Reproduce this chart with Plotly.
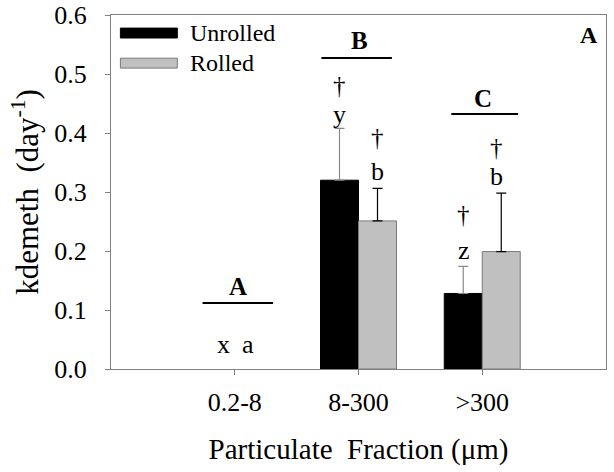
import plotly.graph_objects as go

categories = ["0.2-8", "8-300", ">300"]
unrolled = [None, 0.320, 0.128]
unrolled_err = [None, 0.088, 0.046]
rolled = [None, 0.251, 0.199]
rolled_err = [None, 0.055, 0.099]
y_ticks = [0.0, 0.1, 0.2, 0.3, 0.4, 0.5, 0.6]

FONT = "Liberation Serif"

fig = go.Figure()
fig.add_trace(go.Bar(
    x=categories, y=unrolled, name="Unrolled",
    marker=dict(color="black", line=dict(color="black", width=1)),
    error_y=dict(type="data", array=unrolled_err, arrayminus=[0, 0, 0], symmetric=False,
                 color="#8a8a8a", thickness=1.2, width=5),
))
fig.add_trace(go.Bar(
    x=categories, y=rolled, name="Rolled",
    marker=dict(color="#c0c0c0", line=dict(color="#7a7a7a", width=1)),
    error_y=dict(type="data", array=rolled_err, arrayminus=[0, 0, 0], symmetric=False,
                 color="black", thickness=1.2, width=5),
))

ann = []
def txt(x, y, s, bold=False, size=26, xanchor="center"):
    ann.append(dict(x=x, y=y, xref="x", yref="y", text=f"<b>{s}</b>" if bold else s,
                    showarrow=False, xanchor=xanchor, yanchor="middle",
                    font=dict(family=FONT, size=size, color="black")))

# group letters and lines
txt(0.03, 0.139, "A", bold=True, size=25)
txt(1.01, 0.557, "B", bold=True, size=25)
txt(2.01, 0.459, "C", bold=True, size=25)
shapes = [
    dict(type="line", xref="x", yref="y", x0=-0.26, x1=0.31, y0=0.112, y1=0.112, line=dict(color="black", width=2)),
    dict(type="line", xref="x", yref="y", x0=0.70, x1=1.27, y0=0.527, y1=0.527, line=dict(color="black", width=2)),
    dict(type="line", xref="x", yref="y", x0=1.75, x1=2.29, y0=0.432, y1=0.432, line=dict(color="black", width=2)),
]
# small letters
txt(-0.09, 0.042, "x")
txt(0.105, 0.042, "a")
txt(0.85, 0.431, "y")
txt(1.155, 0.334, "b")
txt(1.85, 0.2015, "z")
txt(2.115, 0.327, "b")
# daggers
txt(0.85, 0.480, "†", size=25)
txt(1.155, 0.393, "†", size=25)
txt(1.85, 0.262, "†", size=25)
txt(2.115, 0.376, "†", size=25)

# panel label
ann.append(dict(x=0.988, y=0.943, xref="paper", yref="paper", text="<b>A</b>", showarrow=False,
                xanchor="right", yanchor="middle", font=dict(family=FONT, size=24, color="black")))

# legend (custom)
shapes.append(dict(type="rect", xref="paper", yref="paper", x0=0.019, x1=0.134, y0=0.935, y1=0.963,
                   fillcolor="black", line=dict(color="black", width=1)))
shapes.append(dict(type="rect", xref="paper", yref="paper", x0=0.019, x1=0.134, y0=0.850, y1=0.878,
                   fillcolor="#c0c0c0", line=dict(color="#7a7a7a", width=1)))
ann.append(dict(x=0.156, y=0.949, xref="paper", yref="paper", text="Unrolled", showarrow=False,
                xanchor="left", yanchor="middle", font=dict(family=FONT, size=24, color="black")))
ann.append(dict(x=0.156, y=0.864, xref="paper", yref="paper", text="Rolled", showarrow=False,
                xanchor="left", yanchor="middle", font=dict(family=FONT, size=24, color="black")))

fig.update_layout(
    width=614, height=472,
    margin=dict(l=111, r=8, t=15, b=103),
    paper_bgcolor="white", plot_bgcolor="white",
    barmode="group", bargap=0.386, bargroupgap=0,
    showlegend=False,
    font=dict(family=FONT, color="black"),
    annotations=ann, shapes=shapes,
)
fig.update_xaxes(
    type="category", categoryorder="array", categoryarray=categories,
    range=[-1, 3], showline=True, linecolor="#808080", linewidth=1, mirror=True,
    ticks="outside", ticklen=5, tickcolor="#808080", showgrid=False, automargin=False,
    ticklabelstandoff=5,
    tickfont=dict(family=FONT, size=26, color="black"),
    title=dict(text="Particulate  Fraction (μm)", font=dict(family=FONT, size=29, color="black"), standoff=22),
)
fig.update_yaxes(
    range=[0, 0.6], tickvals=y_ticks, tickformat=".1f",
    showline=True, linecolor="#808080", linewidth=1, mirror=True,
    ticks="outside", ticklen=5, tickcolor="#808080", showgrid=False, zeroline=False, automargin=False,
    ticklabelstandoff=13,
    tickfont=dict(family=FONT, size=26, color="black"),
    title=dict(text="kdemeth  (day<sup>-1</sup>)", font=dict(family=FONT, size=31, color="black"), standoff=6),
)

fig.write_html("out.html", config={"displayModeBar": False},
               post_script="document.body.style.margin='0';")
